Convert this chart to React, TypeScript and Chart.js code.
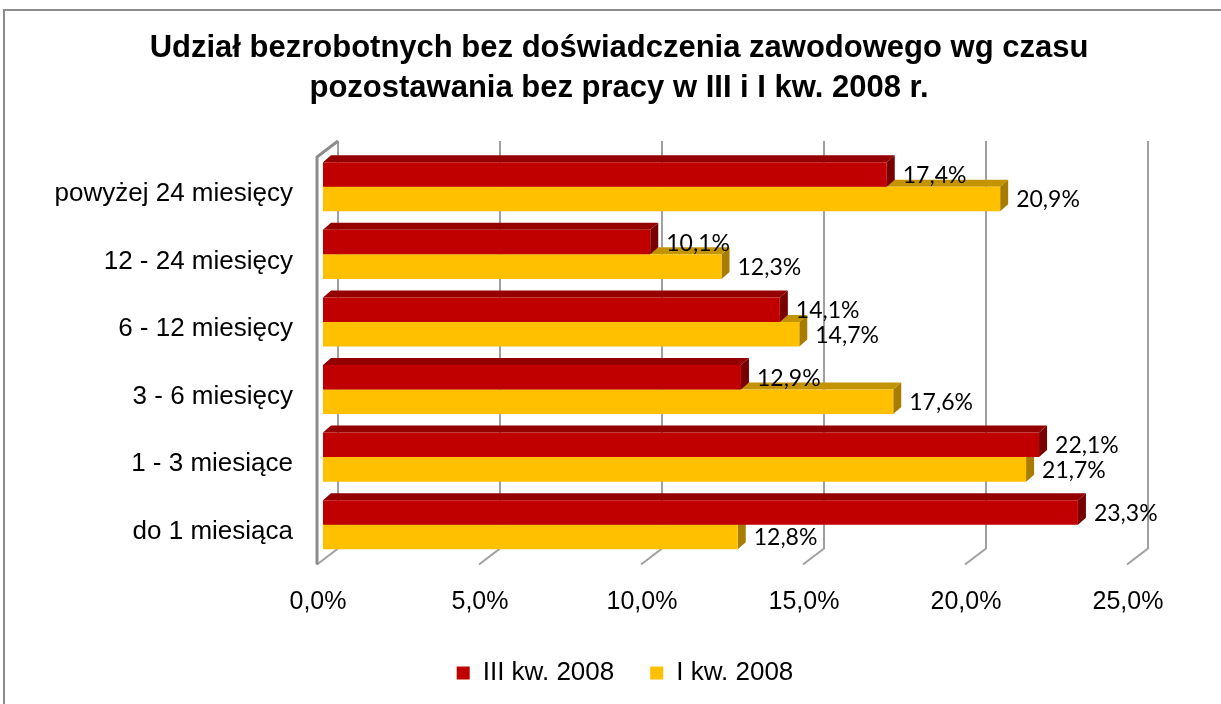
import React, { useEffect, useRef } from 'react';
import { Chart, registerables } from 'chart.js';

Chart.register(...registerables);

const categories = [
  'powyżej 24 miesięcy',
  '12 - 24 miesięcy',
  '6 - 12 miesięcy',
  '3 - 6 miesięcy',
  '1 - 3 miesiące',
  'do 1 miesiąca',
];
const seriesIII = [17.4, 10.1, 14.1, 12.9, 22.1, 23.3];
const seriesI = [20.9, 12.3, 14.7, 17.6, 21.7, 12.8];
const seriesNames = ['III kw. 2008', 'I kw. 2008'];
const xTicks = [0, 5, 10, 15, 20, 25];
const titleLines = [
  'Udział bezrobotnych bez doświadczenia zawodowego wg czasu',
  'pozostawania bez pracy w III i I kw. 2008 r.',
];

const frontColors = ['#C00000', '#FFC000'];
const topColors = ['#940000', '#C49400'];
const sideColors = ['#780000', '#A87C00'];

const fmt = (v: number) => v.toFixed(1).replace('.', ',') + '%';

const DX = 8;
const DY = -7;

const framePlugin = {
  id: 'frame',
  afterLayout(chart: any) {
    if (chart.legend) {
      chart.legend.left += 6;
      chart.legend.right += 6;
    }
  },
  beforeDraw(chart: any) {
    const ctx = chart.ctx;
    ctx.save();
    ctx.strokeStyle = '#8c8c8c';
    ctx.lineWidth = 2;
    ctx.beginPath();
    ctx.moveTo(4, chart.height);
    ctx.lineTo(4, 10);
    ctx.lineTo(chart.width, 10);
    ctx.stroke();
    ctx.restore();
  },
};

const wallsPlugin = {
  id: 'walls3d',
  beforeDatasetsDraw(chart: any) {
    const ctx = chart.ctx;
    const xs = chart.scales.x;
    const area = chart.chartArea;
    const backTop = area.top - 12;
    const backBottom = area.bottom - 10;
    const frontBottom = area.bottom + 6;
    const frontTop = area.top + 4;
    ctx.save();
    ctx.strokeStyle = '#a0a0a0';
    ctx.lineWidth = 2;
    xTicks.forEach((v) => {
      const px = xs.getPixelForValue(v);
      ctx.beginPath();
      ctx.moveTo(px + 15, backTop);
      ctx.lineTo(px + 15, backBottom);
      ctx.lineTo(px - 6, frontBottom);
      ctx.stroke();
    });
    const p0 = xs.getPixelForValue(0);
    ctx.strokeStyle = '#8c8c8c';
    ctx.lineWidth = 3;
    ctx.beginPath();
    ctx.moveTo(p0 + 15, backTop);
    ctx.lineTo(p0 - 6, frontTop);
    ctx.lineTo(p0 - 6, frontBottom);
    ctx.stroke();
    ctx.restore();

    // 3D faces of bars: yellow first, then red
    [1, 0].forEach((di) => {
      const meta = chart.getDatasetMeta(di);
      meta.data.forEach((el: any) => {
        const { x, y, base, height } = el.getProps(['x', 'y', 'base', 'height'], true);
        const top = y - height / 2;
        const bottom = y + height / 2;
        ctx.save();
        ctx.fillStyle = topColors[di];
        ctx.beginPath();
        ctx.moveTo(base, top);
        ctx.lineTo(x, top);
        ctx.lineTo(x + DX, top + DY);
        ctx.lineTo(base + DX, top + DY);
        ctx.closePath();
        ctx.fill();
        ctx.fillStyle = sideColors[di];
        ctx.beginPath();
        ctx.moveTo(x, top);
        ctx.lineTo(x + DX, top + DY);
        ctx.lineTo(x + DX, bottom + DY);
        ctx.lineTo(x, bottom);
        ctx.closePath();
        ctx.fill();
        ctx.restore();
      });
    });
  },
  afterDatasetsDraw(chart: any) {
    const ctx = chart.ctx;
    ctx.save();
    ctx.fillStyle = '#000';
    ctx.font = '23px Lato';
    ctx.textAlign = 'left';
    ctx.textBaseline = 'middle';
    chart.data.datasets.forEach((ds: any, di: number) => {
      const meta = chart.getDatasetMeta(di);
      meta.data.forEach((el: any, i: number) => {
        const { x, y } = el.getProps(['x', 'y'], true);
        ctx.fillText(fmt(ds.data[i]), x + 16, y + 1);
      });
    });
    ctx.restore();
  },
};

export default function App() {
  const ref = useRef<HTMLCanvasElement>(null);
  useEffect(() => {
    if (!ref.current) return;
    Chart.defaults.font.family = 'Liberation Sans';
    const chart = new Chart(ref.current, {
      type: 'bar',
      data: {
        labels: categories,
        datasets: [
          {
            label: seriesNames[0],
            data: seriesIII,
            backgroundColor: frontColors[0],
            borderWidth: 0,
            categoryPercentage: 0.726,
            barPercentage: 1,
          },
          {
            label: seriesNames[1],
            data: seriesI,
            backgroundColor: frontColors[1],
            borderWidth: 0,
            categoryPercentage: 0.726,
            barPercentage: 1,
          },
        ],
      },
      options: {
        indexAxis: 'y',
        responsive: false,
        animation: false,
        devicePixelRatio: 1,
        layout: { padding: { left: 17, right: 0, top: 0, bottom: 8 } },
        scales: {
          x: {
            type: 'linear',
            min: 0,
            max: 25,
            afterBuildTicks: (s: any) => {
              s.ticks = xTicks.map((v) => ({ value: v }));
            },
            afterFit: (s: any) => {
              s.height = 65.5;
            },
            grid: { display: false, drawTicks: false, tickLength: 0 },
            border: { display: false },
            ticks: {
              callback: (v: any) => fmt(Number(v)),
              font: { size: 25, family: 'Liberation Sans' },
              color: '#000',
              padding: 29,
              labelOffset: -5,
              maxRotation: 0,
            },
          },
          y: {
            type: 'category',
            offset: true,
            afterFit: (s: any) => {
              s.width = 306;
            },
            grid: { display: false, drawTicks: false, tickLength: 0 },
            border: { display: false },
            ticks: {
              font: { size: 26, family: 'Liberation Sans' },
              color: '#000',
              padding: 30,
              labelOffset: 7,
            },
          },
          y2: {
            type: 'linear',
            position: 'right',
            display: true,
            afterFit: (s: any) => {
              s.width = 88;
            },
            grid: { display: false, drawTicks: false, tickLength: 0 },
            border: { display: false },
            ticks: { display: false },
          },
        },
        plugins: {
          title: {
            display: true,
            text: titleLines,
            color: '#000',
            font: { size: 31, weight: 'bold', family: 'Liberation Sans', lineHeight: 1.29 },
            padding: { top: 28, bottom: 45 },
          },
          legend: {
            display: true,
            position: 'bottom',
            labels: {
              boxWidth: 13,
              boxHeight: 13,
              color: '#000',
              font: { size: 26, family: 'Liberation Sans' },
              padding: 36,
            },
          },
          tooltip: { enabled: false },
        },
      },
      plugins: [framePlugin, wallsPlugin],
    } as any);
    return () => chart.destroy();
  }, []);
  return (
    <div style={{ position: 'fixed', left: 0, top: 0, width: 1221, height: 704, background: '#fff' }}>
      <canvas ref={ref} width={1221} height={704} style={{ display: 'block' }} />
    </div>
  );
}
